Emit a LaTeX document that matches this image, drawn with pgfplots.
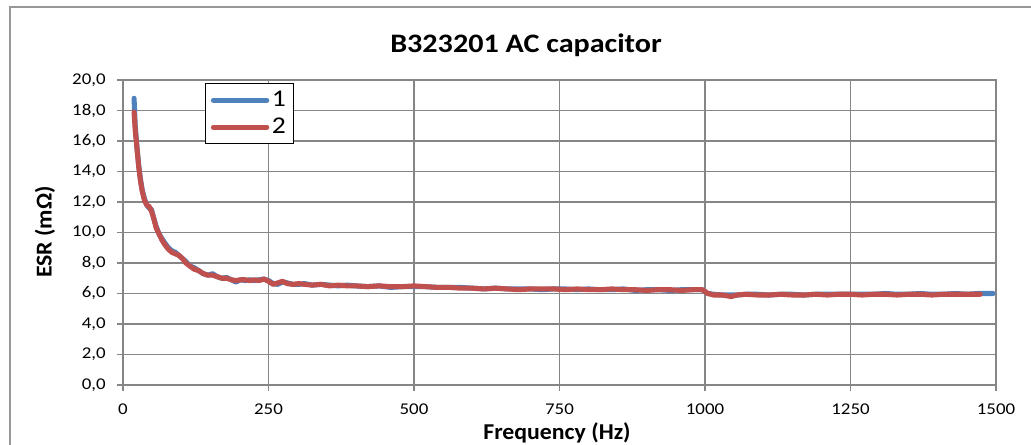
\documentclass[border=0pt]{standalone}
\usepackage{pgfplots}
\pgfplotsset{compat=1.18}
\usepackage{fontspec}
\setmainfont{Carlito}
\newfontfamily\titlefont{Carlito}[FakeStretch=1.13]
\newfontfamily\labelfont{Carlito}[FakeStretch=1.05]
\newfontfamily\tickfont{Carlito}[FakeStretch=1.15]

\definecolor{xlblue}{RGB}{79,129,189}
\definecolor{xlred}{RGB}{192,80,77}
\definecolor{gridgray}{RGB}{134,134,134}

\begin{document}
\begin{tikzpicture}[x=0.75pt,y=0.75pt]
\useasboundingbox (0,0) rectangle (1031,444);
\draw[gridgray!85, line width=1.6pt] (10,-40) rectangle (1080,437);
\node[font=\titlefont\bfseries\fontsize{20}{24}\selectfont] at (526,399) {B323201 AC capacitor};
\node[font=\labelfont\bfseries\fontsize{17}{20}\selectfont, rotate=90] at (45,212) {ESR (mΩ)};
\node[font=\labelfont\bfseries\fontsize{17}{20}\selectfont] at (557,11) {Frequency (Hz)};

\begin{axis}[
    at={(92.25pt,44.25pt)}, anchor=south west,
    scale only axis,
    width=654.75pt, height=228.75pt,
    xmin=0, xmax=1500,
    ymin=0, ymax=20,
    xtick={0,250,...,1500},
    ytick={0,2,...,20},
    grid=major,
    grid style={gridgray, line width=1.1pt},
    axis line style={gridgray, line width=1.1pt},
    tick style={gridgray, line width=1.1pt},
    tick align=outside,
    major tick length=4.5pt,
    xtick pos=bottom, ytick pos=left,
    ticklabel style={font=\tickfont\fontsize{12.3}{14}\selectfont},
    /pgf/number format/assume math mode=true,
    x tick label style={/pgf/number format/1000 sep={}, yshift=-6pt},
    y tick label style={/pgf/number format/.cd, fixed, fixed zerofill, precision=1, use comma, /tikz/.cd, xshift=-5pt},
    legend style={at={(0.094,0.99)}, anchor=north west, draw=black, line width=0.75pt,
        font=\tickfont\fontsize{18}{20}\selectfont, inner xsep=4pt, inner ysep=4pt, row sep=3pt},
    legend cell align=left,
    legend image code/.code={\draw[#1, line width=3.8pt, line cap=round] (0pt,0pt) -- (40pt,0pt);},
]
\addplot[xlblue, line width=3.8pt, line join=round, line cap=round] coordinates {
(19,18.8) (21,17.0) (24,15.6) (27,14.4) (30,13.5) (33,12.8) (37,12.2) (41,11.8)
(45,11.6) (49,11.5) (53,10.9) (57,10.4) (62,9.9) (67,9.6) (72,9.3) (78,9.0)
(84,8.8) (90,8.7) (96,8.5) (102,8.3) (108,8.1) (115,7.8) (122,7.7) (130,7.5)
(138,7.3) (146,7.2) (154,7.3) (162,7.1) (170,7.0) (178,7.05) (186,6.9) (194,6.75)
(202,6.9) (210,6.85) (218,6.9) (226,6.85) (234,6.9) (242,6.95) (250,6.85) (258,6.65)
(266,6.6) (274,6.75) (282,6.7) (292,6.6) (302,6.6) (312,6.65) (325,6.55) (340,6.6)
(355,6.55) (370,6.5) (385,6.55) (400,6.5) (420,6.45) (440,6.5) (460,6.4) (480,6.45)
(500,6.45) (520,6.45) (540,6.4) (560,6.4) (580,6.4) (600,6.35) (620,6.3) (640,6.35)
(660,6.3) (680,6.3) (700,6.3) (720,6.25) (740,6.3) (760,6.3) (780,6.25) (800,6.3)
(820,6.25) (840,6.25) (860,6.3) (880,6.2) (900,6.25) (920,6.25) (940,6.2) (960,6.25)
(980,6.25) (995,6.25) (1005,6.0) (1015,5.95) (1030,5.9) (1045,5.9) (1055,5.9) (1070,5.95)
(1090,5.95) (1110,5.9) (1130,5.95) (1150,5.95) (1170,5.9) (1190,5.95) (1210,5.95) (1230,5.95)
(1250,5.95) (1270,5.95) (1290,5.95) (1310,6.0) (1330,5.95) (1350,5.95) (1370,6.0) (1390,5.95)
(1410,5.95) (1430,6.0) (1450,5.95) (1470,6.0) (1485,6.0) (1495,6.0)
};
\addlegendentry{1}
\addplot[xlred, line width=3.8pt, line join=round, line cap=round] coordinates {
(19,17.9) (21,16.7) (24,15.5) (27,14.3) (30,13.4) (33,12.7) (37,12.1) (41,11.8)
(45,11.7) (49,11.4) (53,10.9) (57,10.3) (62,9.9) (67,9.5) (72,9.2) (78,8.9)
(84,8.7) (90,8.6) (96,8.5) (102,8.3) (108,8.0) (115,7.8) (122,7.6) (130,7.5)
(138,7.3) (146,7.2) (154,7.2) (162,7.1) (170,7.0) (178,7.0) (186,6.9) (194,6.85)
(202,6.9) (210,6.9) (218,6.85) (226,6.9) (234,6.85) (242,6.95) (250,6.8) (258,6.6)
(266,6.7) (274,6.8) (282,6.65) (292,6.6) (302,6.65) (312,6.6) (325,6.55) (340,6.6)
(355,6.5) (370,6.55) (385,6.5) (400,6.5) (420,6.45) (440,6.5) (460,6.45) (480,6.45)
(500,6.5) (520,6.45) (540,6.4) (560,6.4) (580,6.35) (600,6.35) (620,6.3) (640,6.35)
(660,6.3) (680,6.25) (700,6.3) (720,6.3) (740,6.3) (760,6.25) (780,6.3) (800,6.25)
(820,6.25) (840,6.3) (860,6.25) (880,6.25) (900,6.2) (920,6.25) (940,6.25) (960,6.2)
(980,6.25) (995,6.25) (1005,6.0) (1015,5.9) (1030,5.9) (1045,5.8) (1055,5.9) (1070,5.95)
(1090,5.9) (1110,5.9) (1130,5.95) (1150,5.9) (1170,5.9) (1190,5.95) (1210,5.9) (1230,5.95)
(1250,5.95) (1270,5.9) (1290,5.95) (1310,5.95) (1330,5.9) (1350,5.95) (1370,5.95) (1390,5.9)
(1410,5.95) (1430,5.95) (1450,5.95) (1473,5.95)
};
\addlegendentry{2}
\draw[gridgray, line width=2.2pt] (axis cs:0,20) -- (axis cs:0,0) -- (axis cs:1500,0);
\end{axis}
\end{tikzpicture}
\end{document}
